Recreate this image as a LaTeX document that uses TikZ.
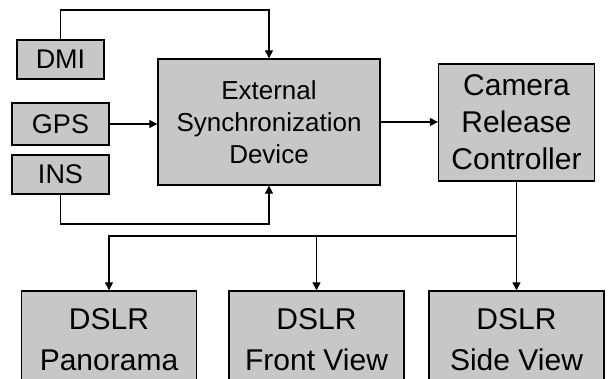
\documentclass[tikz,border=0pt]{standalone}
\usepackage{fontspec}
\setmainfont{Liberation Sans}
\usetikzlibrary{arrows.meta}
\tikzset{
  box/.style={draw=black, line width=1.3pt, fill=black!22, inner sep=0pt, align=center},
  smallbox/.style={box, font=\fontsize{27}{32}\selectfont},
  bigbox/.style={box, font=\fontsize{30}{37}\selectfont},
  camerabox/.style={box, font=\fontsize{30}{41}\selectfont, minimum width=175pt, minimum height=97pt},
  conn/.style={line width=1.1pt},
  arr/.style={conn, -{Triangle[length=8pt,width=8pt]}}
}
\begin{document}
\begin{tikzpicture}[x=1pt,y=-1pt]
\useasboundingbox (0,0) rectangle (609,378);
\clip (0,0) rectangle (609,378);
\fill[white] (0,0) rectangle (609,378);
% left inputs
\node[smallbox, minimum width=87pt, minimum height=39pt] (dmi) at (60.5,59.5) {DMI};
\node[smallbox, minimum width=97pt, minimum height=42pt] (gps) at (60.5,124) {GPS};
\node[smallbox, minimum width=97pt, minimum height=39pt] (ins) at (60.5,174.5) {INS};
% central
\node[box, font=\fontsize{26}{32}\selectfont, minimum width=222pt, minimum height=126pt] (esd) at (269,122) {External\\Synchronization\\Device};
\node[bigbox, minimum width=156pt, minimum height=117pt] (crc) at (516.5,122.5) {Camera\\Release\\Controller};
% cameras
\node[camerabox] (pan) at (109,339.5) {DSLR\\Panorama};
\node[camerabox] (front) at (316.5,339.5) {DSLR\\Front View};
\node[camerabox] (side) at (516.5,339.5) {DSLR\\Side View};
% connectors
\draw[arr] (dmi.north) -- (dmi.north |- 0,10) -| (esd.north);
\draw[arr] (gps.east) -- (gps.east -| esd.west);
\draw[arr] (ins.south) -- (ins.south |- 0,224) -| (esd.south);
\draw[arr] (esd.east) -- (esd.east -| crc.west);
\draw[line width=1.8pt] (crc.south) -- (crc.south |- 0,236) coordinate (br);
\draw[arr] (br) -| (pan.north);
\draw[arr] (front.north |- br) -- (front.north);
\draw[arr] (br) -- (side.north);
\end{tikzpicture}
\end{document}
